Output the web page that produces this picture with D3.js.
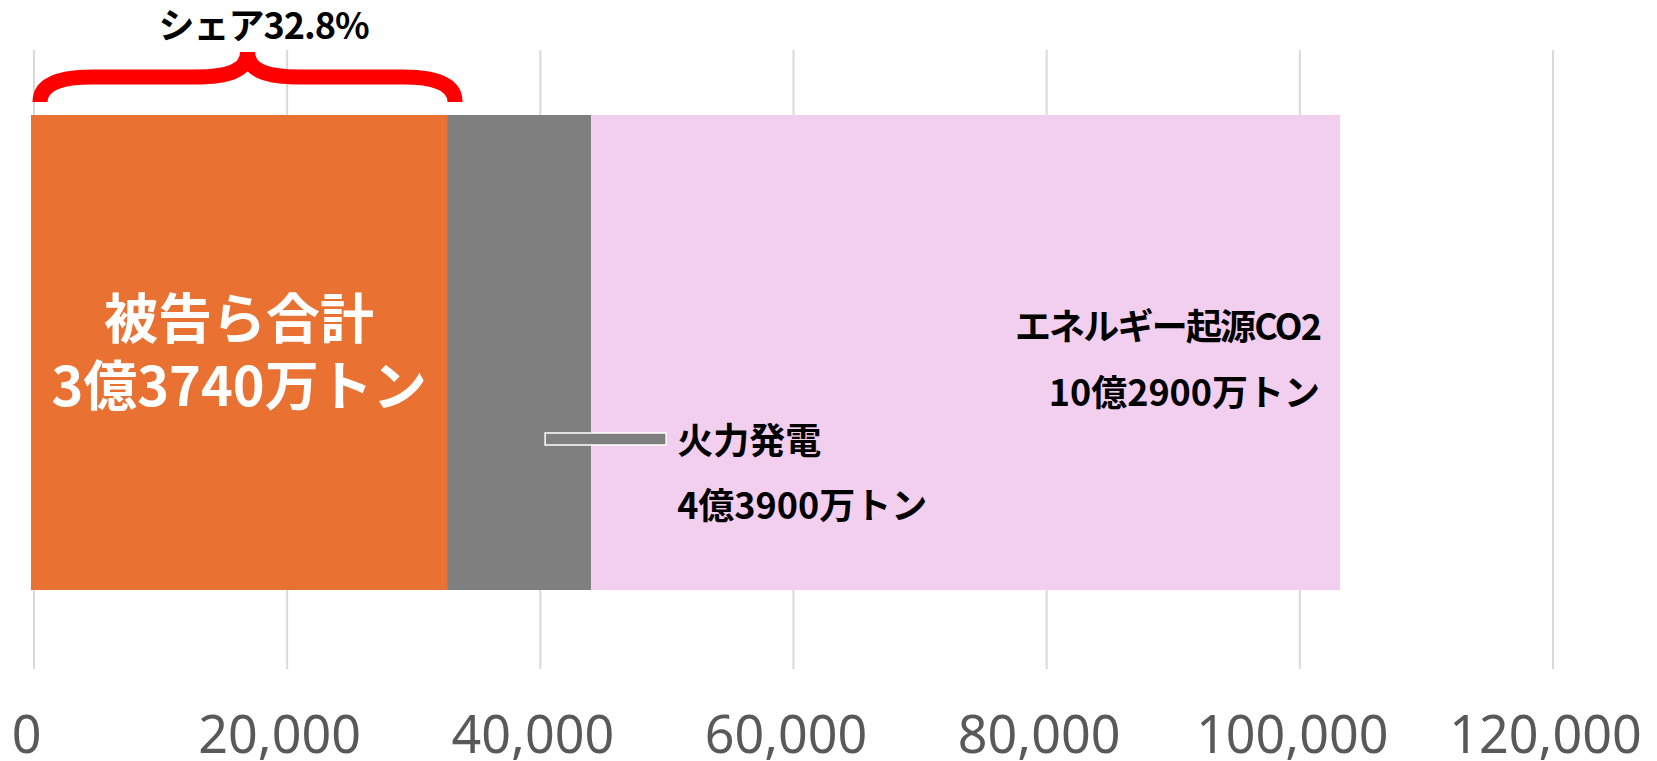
<!DOCTYPE html>
<html>
<head>
<meta charset="utf-8">
<script src="https://cdn.jsdelivr.net/npm/d3@7"></script>
<style>
  body { margin: 0; background: #fff; }
  text { font-family: "Noto Sans CJK JP", "Noto Sans", sans-serif; }
</style>
</head>
<body>
<div id="chart"></div>
<script>
// stacked segments, in 10,000 t CO2
var segments = ["被告ら合計", "火力発電", "エネルギー起源CO2"];
var values = [32870, 11380, 59170];
var colors = ["#E97132", "#7F7F7F", "#F2CEEF"];
var tickValues = [0, 20000, 40000, 60000, 80000, 100000, 120000];

var defendantLines = ["被告ら合計", "3億3740万トン"];
var thermalLines = ["火力発電", "4億3900万トン"];
var energyLines = ["エネルギー起源CO2", "10億2900万トン"];
var shareLabel = "シェア32.8%";

var width = 1657;
var height = 761;
var margin = { left: 34, right: 104, top: 50, bottom: 92 };

var x = d3.scaleLinear()
    .domain([0, 120000])
    .range([margin.left, width - margin.right]);

var svg = d3.select("#chart")
    .append("svg")
    .attr("width", width)
    .attr("height", height);

// gridlines
svg.append("g")
    .selectAll("line")
    .data(tickValues)
    .join("line")
    .attr("x1", function (d) { return x(d); })
    .attr("x2", function (d) { return x(d); })
    .attr("y1", margin.top)
    .attr("y2", height - margin.bottom)
    .attr("stroke", "#D9D9D9")
    .attr("stroke-width", 2);

// axis labels
var xAxis = d3.axisBottom(x)
    .tickValues(tickValues)
    .tickSize(0)
    .tickFormat(d3.format(","));

var axisG = svg.append("g")
    .attr("transform", "translate(-8," + (height - margin.bottom) + ")")
    .call(xAxis);
axisG.select(".domain").remove();
axisG.selectAll("text")
    .attr("dy", null)
    .attr("y", 84)
    .attr("fill", "#595959")
    .style("font-family", "'Noto Sans', sans-serif")
    .style("font-size", "52px");

// stacked bar
var stackEnds = d3.cumsum(values);
var stackStarts = stackEnds.map(function (d, i) { return d - values[i]; });
var barTop = 115, barBottom = 590;

var barG = svg.append("g").attr("transform", "translate(-3,0)");
barG.selectAll("rect")
    .data(values)
    .join("rect")
    .attr("x", function (d, i) { return x(stackStarts[i]); })
    .attr("width", function (d, i) { return x(stackEnds[i]) - x(stackStarts[i]); })
    .attr("y", barTop)
    .attr("height", barBottom - barTop)
    .attr("fill", function (d, i) { return colors[i]; });

// defendants label, centred in the orange segment
var cx0 = x((stackStarts[0] + stackEnds[0]) / 2);
barG.append("g").selectAll("text")
    .data(defendantLines)
    .join("text")
    .attr("x", cx0)
    .attr("y", function (d, i) { return 339 + i * 67; })
    .attr("text-anchor", "middle")
    .attr("fill", "#fff")
    .style("font-size", "54px")
    .style("font-weight", "bold")
    .text(function (d) { return d; });

// thermal power leader + label
var thermalEnd = x(stackEnds[1]) - 3;
svg.append("rect")
    .attr("x", thermalEnd - 46)
    .attr("y", 433)
    .attr("width", 121)
    .attr("height", 12)
    .attr("fill", "#7F7F7F")
    .attr("stroke", "#fff")
    .attr("stroke-width", 1.5);

svg.append("g").selectAll("text")
    .data(thermalLines)
    .join("text")
    .attr("x", thermalEnd + 86)
    .attr("y", function (d, i) { return 454 + i * 65; })
    .attr("fill", "#000")
    .style("font-size", "36px")
    .style("font-weight", "bold")
    .text(function (d) { return d; });

// energy CO2 label, right aligned in the pink segment
var energyEnd = x(stackEnds[2]) - 3;
svg.append("g").selectAll("text")
    .data(energyLines)
    .join("text")
    .attr("x", energyEnd - 20)
    .attr("y", function (d, i) { return 340 + i * 66; })
    .attr("text-anchor", "end")
    .attr("fill", "#000")
    .style("font-size", "36px")
    .style("font-weight", "bold")
    .style("letter-spacing", function (d, i) { return i === 0 ? "-1.8px" : null; })
    .text(function (d) { return d; });

// red brace over the defendants' share
var bl = x(0) - 3 + 9;
var br = x(stackEnds[0]) - 3 + 8;
var bm = (bl + br) / 2;
var yEnd = 102, yMid = 77, yTip = 52;

var leftHalf = d3.path();
leftHalf.moveTo(bl, yEnd);
leftHalf.bezierCurveTo(bl, yMid + 9, bl + 16, yMid, bl + 52, yMid);
leftHalf.lineTo(bm - 52, yMid);
leftHalf.bezierCurveTo(bm - 20, yMid, bm, yMid - 6, bm, yTip);

var rightHalf = d3.path();
rightHalf.moveTo(br, yEnd);
rightHalf.bezierCurveTo(br, yMid + 9, br - 16, yMid, br - 52, yMid);
rightHalf.lineTo(bm + 52, yMid);
rightHalf.bezierCurveTo(bm + 20, yMid, bm, yMid - 6, bm, yTip);

svg.append("g")
    .selectAll("path")
    .data([leftHalf.toString(), rightHalf.toString()])
    .join("path")
    .attr("d", function (d) { return d; })
    .attr("fill", "none")
    .attr("stroke", "#FF0000")
    .attr("stroke-width", 15);

svg.append("text")
    .attr("x", bm + 16)
    .attr("y", 39)
    .attr("text-anchor", "middle")
    .attr("fill", "#000")
    .style("font-size", "36px")
    .style("font-weight", "bold")
    .style("letter-spacing", "-1px")
    .text(shareLabel);
</script>
</body>
</html>
